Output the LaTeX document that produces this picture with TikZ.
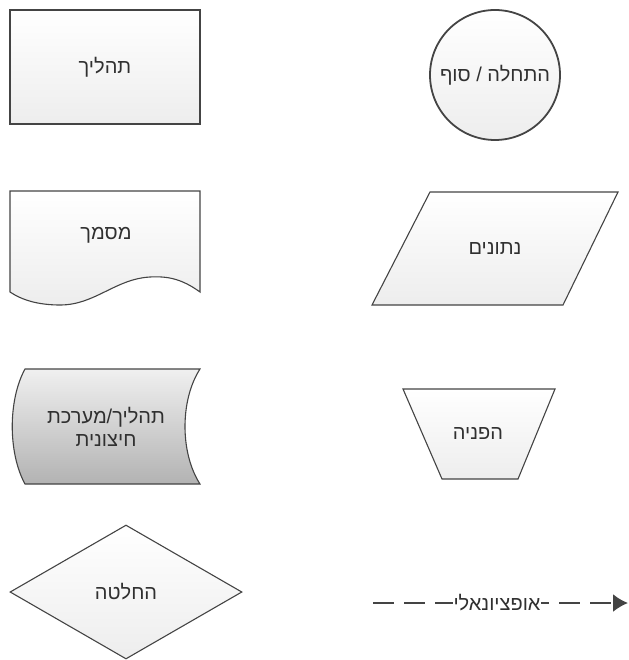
\documentclass[tikz,border=0pt]{standalone}
\usepackage{fontspec}
\usetikzlibrary{arrows.meta,shapes.geometric}
\TeXXeTstate=1
\newfontfamily\hebfont[Script=Hebrew]{Liberation Sans}
\newcommand{\heb}[1]{{\hebfont\beginR #1\endR}}
\definecolor{edge}{HTML}{444444}
\definecolor{ink}{HTML}{303030}

\begin{document}
\begin{tikzpicture}[x=1pt,y=-1pt,
  shp/.style={draw=edge,line width=1.1pt,top color=white,bottom color=gray!14},
  extshp/.style={draw=edge,line width=1.1pt,top color=gray!12,bottom color=gray!60},
  lbl/.style={text=ink,font=\fontsize{20}{23}\selectfont,align=center}]
  \useasboundingbox (0,0) rectangle (628,660);

  % left column
  \node[shp,rectangle,minimum width=190pt,minimum height=114pt,lbl] (proc) at (105,67) {\heb{תהליך}};

  \draw[shp] (10,191) -- (200,191) -- (200,292)
    .. controls (182,279) and (168,276) .. (150,277)
    .. controls (115,279) and (95,305) .. (60,305)
    .. controls (38,305) and (22,300) .. (10,292) -- cycle;
  \node[lbl] (doc) at (106,235) {\heb{מסמך}};

  \draw[extshp] (25,369) -- (200,369)
    .. controls (180,400) and (180,453) .. (200,484) -- (25,484)
    .. controls (8,453) and (8,400) .. (25,369) -- cycle;
  \node[lbl] (ext) at (106,427) {\heb{תהליך/מערכת}\\\heb{חיצונית}};

  \node[shp,diamond,minimum width=232pt,minimum height=134pt,inner sep=0pt,lbl] (dec) at (126,592) {\heb{החלטה}};

  % right column
  \node[shp,circle,minimum size=130pt,line width=1.8pt,lbl] (term) at (495,75) {\heb{התחלה / סוף}};

  \draw[shp] (430,192) -- (618,192) -- (563,305) -- (372,305) -- cycle;
  \node[lbl] (data) at (495,249) {\heb{נתונים}};

  \draw[shp] (403,389) -- (555,389) -- (518,479) -- (442,479) -- cycle;
  \node[lbl] (ref) at (478,434) {\heb{הפניה}};

  \coordinate (oa) at (373,603);
  \coordinate (ob) at (628,603);
  \draw[edge,line width=2pt,dash pattern=on 21pt off 10pt,-{Latex[length=15pt,width=18pt]}] (oa) -- (ob);
  \node[lbl,fill=white,inner xsep=1pt] (opt) at (497,603) {\heb{אופציונאלי}};
\end{tikzpicture}
\end{document}
